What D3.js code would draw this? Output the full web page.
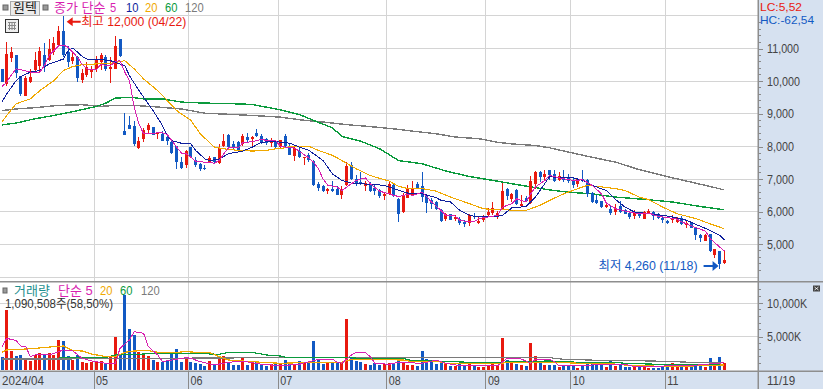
<!DOCTYPE html>
<html>
<head>
<meta charset="utf-8">
<script src="https://d3js.org/d3.v7.min.js"></script>
<style>
    html, body { margin: 0; padding: 0; background: #fff; overflow: hidden; }
    text { font-family: "Liberation Sans", "Noto Sans CJK KR", sans-serif; font-size: 12px; }
    .axis text { fill: #444; }
</style>
</head>
<body>
<div id="chart-area"></div>
<script>
const width = 823;
const height = 389;

// daily candles, 2024/04 .. 2024/11/19
const opens = [10380,9900,10710,10790,10170,9560,9970,10330,10460,10790,10650,10890,11110,11550,10910,10610,10730,10050,10200,10270,10380,10580,10730,10380,10380,11280,
    8460,8660,8640,7960,8220,8510,8610,8370,8390,8290,8150,8030,7520,7420,7980,7600,7470,7350,7540,7690,7500,8030,8340,8080,8150,8080,8290,8230,8410,8320,8220,8110,8160,
    8000,8310,8030,7700,7860,7650,7730,7570,6860,6780,6650,6710,6710,6500,6810,7440,7010,6920,6780,6860,6740,6680,6470,6530,6810,6400,5990,6430,6520,6860,6780,6470,6350,6300,6040,5770,5920,5770,5790,5690,5650,5880,5670,5740,5910,5970,5870,6070,6710,6380,6680,6190,6420,6280,6840,7210,7060,7270,
    7160,6960,7040,7060,6960,6860,7010,6960,6580,6350,6320,6140,6100,5980,6170,6060,5960,5860,5970,5790,5940,6000,5940,5820,5720,5760,5700,5820,5590,5650,5500,5300,5100,5330,4690,4790,4440];
const highs = [10380,11190,11060,10790,10170,10170,10380,10890,11040,11160,11300,11350,11700,12000,11090,10890,10760,10380,10600,10480,10760,10860,10810,10730,11380,11300,
    9030,8920,8770,8280,8560,8710,8610,8440,8470,8390,8240,8030,7670,7900,7980,7670,7490,7420,7700,7690,8080,8390,8390,8180,8180,8390,8420,8320,8540,8390,8260,8260,8180,
    8200,8390,8110,7980,7950,7690,7800,7590,6910,6810,6740,6930,6780,6780,7540,7520,7140,7210,6930,6910,6860,6710,6570,6930,6840,6420,6570,6810,6930,6910,7210,6550,6420,6320,6070,5970,5940,5890,5840,5760,5920,5960,5860,5890,6110,6300,6010,6880,6740,6570,6710,6520,6470,7110,7240,7240,7270,7290,
    7270,7210,7270,7160,7040,7040,7270,6990,6600,6500,6320,6300,6200,6230,6320,6090,5990,6040,5990,6010,6070,6020,5960,5890,5740,5890,5840,5860,5710,5660,5500,5330,5310,5330,4870,4790,4820];
const lows = [9970,9840,10580,10100,9540,9540,9950,10310,10280,10280,10630,10790,11040,10730,10430,10530,9970,9940,10140,10100,10280,10330,10310,9950,10360,10750,
    8350,8540,8030,7910,8130,8390,8340,8220,8180,8050,7760,7300,7300,7350,7670,7370,7250,7270,7500,7500,7470,7980,7960,7880,7830,8030,8150,8030,8290,8080,8060,7980,7960,
    7930,7950,7730,7550,7640,7430,7540,6780,6650,6610,6530,6600,6500,6390,6790,6960,6790,6810,6650,6600,6500,6420,6350,6520,6450,5690,5970,6420,6490,6710,6300,5960,6090,6040,5680,5710,5740,5720,5600,5530,5560,5790,5610,5700,5860,5890,5790,6040,6350,6300,6200,6160,6290,6250,6690,6910,6980,6960,
    6920,6940,6910,6880,6740,6760,6910,6450,6280,6250,6110,6120,5890,5900,5960,5920,5770,5790,5820,5780,5920,5760,5790,5670,5630,5650,5660,5600,5500,5500,5120,5070,5090,4770,4570,4260,4390];
const closes = [9990,10820,10910,10250,9610,10090,10140,10650,10940,10460,10990,11160,11550,10790,10580,10730,10090,10250,10430,10360,10650,10790,10360,10450,11090,10770,
    8350,8540,8080,8180,8520,8660,8340,8440,8180,8180,7810,7520,7350,7850,7690,7420,7320,7300,7640,7520,7960,8180,7980,7960,7880,8310,8210,8290,8310,8100,8100,8180,7980,
    8200,8030,7730,7950,7690,7670,7590,6810,6740,6630,6710,6630,6500,6710,7390,7010,6890,6860,6880,6630,6650,6470,6530,6860,6480,5940,6500,6740,6710,6740,6450,6270,6230,6070,5710,5940,5740,5840,5650,5610,5910,5840,5720,5860,5990,6110,5960,6650,6470,6530,6230,6250,6320,6930,7210,7080,7160,7140,
    6940,7110,6980,6940,6810,6990,6940,6550,6300,6280,6160,6200,5970,6110,5990,5940,5840,6000,5870,5980,6020,5880,5820,5740,5650,5820,5810,5630,5650,5500,5300,5190,5290,4790,4850,4390,4510];

// volume, in K shares
const volumes = [2000,8960,2890,2090,2240,1590,1390,2240,2590,2240,2590,2240,4480,4380,2090,1490,2240,1240,1100,1240,1390,1340,1100,2090,4970,2240,
    11190,6120,5220,2640,2240,2090,1490,1240,1240,1340,2490,3130,1240,1890,1240,1100,900,650,1340,900,2000,2090,1240,750,750,1890,750,1000,1150,750,600,850,850,
    1000,1490,1150,900,1340,1100,1000,4330,1490,900,1100,1100,1100,1100,7610,1740,1340,1240,900,750,1000,750,850,1000,1000,1490,1150,750,750,600,2840,1590,1240,900,1340,900,600,600,850,600,900,650,500,500,750,1000,750,4730,1490,1100,900,750,600,3980,2090,1100,750,750,
    750,500,650,650,650,350,650,1100,850,750,1000,500,1340,650,750,500,500,500,500,400,350,350,350,400,500,1000,500,500,500,500,750,650,500,1740,1000,1940,1090];

// moving averages: day index + value
const ma5Days = [0,1,2,3,4,6,8,9,10,11,12,13,14,15,16,17,18,19,20,21,22,23,24,25,26,27,28,29,30,31,32,34,35,36,37,38,39,40,41,42,43,45,46,47,48,49,50,51,52,54,55,56,58,59,62,65,66,67,68,69,71,72,74,75,77,78,79,80,82,83,84,86,87,89,90,91,93,94,96,97,99,100,101,103,105,106,108,109,111,112,113,115,116,119,121,123,125,127,128,130,131,133,135,137,139,141,143,144,147,149,150,152,153];
const ma5Vals = [9840,9970,10200,10380,10350,10280,10280,10480,10790,10940,11090,11110,11040,10890,10730,10510,10380,10350,10350,10530,10480,10480,10600,10630,10280,10020,9200,8690,8390,8390,8410,8420,8370,8180,7980,7800,7780,7670,7550,7530,7520,7490,7570,7780,7960,7980,7960,8110,8130,8180,8230,8180,8180,8000,7950,7650,7520,7320,7010,6810,6760,6650,6860,6960,7040,6860,6740,6630,6550,6500,6470,6530,6500,6600,6450,6300,6040,5890,5870,5740,5690,5690,5790,5840,5890,6140,6250,6400,6300,6550,6760,6960,7110,7010,6960,6980,6810,6550,6270,6090,6060,5990,5940,5960,5860,5820,5770,5690,5510,5410,5180,4920,4800];

const ma10Days = [0,1,3,4,6,8,9,10,12,13,14,15,17,18,20,23,25,26,27,29,30,32,34,35,36,38,40,41,43,44,46,48,51,53,55,58,59,61,63,65,66,68,70,72,74,76,78,81,83,86,89,92,93,95,97,99,101,104,106,108,111,113,116,118,121,123,125,128,130,132,134,137,140,142,145,148,150,152,153];
const ma10Vals = [9360,9610,10020,10140,10280,10330,10430,10530,10630,10680,10940,11020,10760,10680,10680,10630,10530,10480,10170,9720,9510,9100,8640,8340,8180,8100,8080,7880,7620,7570,7620,7780,7860,7980,8130,8160,8130,8100,7980,7880,7780,7570,7160,6960,6880,6860,6840,6810,6710,6570,6550,6430,6350,6300,6040,5890,5840,5840,5890,6120,6160,6450,7080,7040,7040,6960,6810,6650,6370,6140,5990,5940,5890,5840,5740,5550,5430,5280,5140];

const ma20Days = [0,1,3,6,8,11,13,15,17,20,23,26,28,30,33,35,37,40,42,45,47,50,53,56,58,59,61,65,67,70,72,75,78,82,84,86,89,92,95,99,102,106,111,114,116,119,122,124,126,130,132,135,137,140,143,147,150,153];
const ma20Vals = [8750,8950,9310,9460,9710,10020,10330,10450,10510,10530,10550,10630,10380,10070,9710,9410,9100,8800,8390,7980,7930,7880,7860,7880,7930,7930,8000,8010,7880,7730,7570,7320,7110,6940,6780,6710,6710,6630,6450,6250,6090,6060,6040,6200,6350,6550,6710,6810,6780,6710,6650,6450,6370,6140,5940,5790,5630,5480];

const ma60Days = [0,3,7,11,16,20,22,24,27,30,34,38,43,49,53,59,63,66,70,72,76,80,84,89,94,99,104,108,113,116,120,125,130,136,142,148,153];
const ma60Vals = [8660,8720,8850,8950,9100,9230,9330,9480,9510,9460,9460,9360,9330,9310,9290,9120,8980,8800,8570,8310,8160,7930,7570,7470,7250,7080,6960,6860,6740,6670,6600,6550,6450,6380,6300,6160,6060];

const ma120Days = [0,3,7,12,17,21,24,28,33,38,43,49,53,59,63,68,73,78,83,87,92,96,101,105,108,113,116,120,125,130,135,140,145,149,153];
const ma120Vals = [9100,9150,9190,9260,9280,9230,9260,9260,9210,9150,9020,8980,8950,8900,8820,8750,8670,8610,8540,8470,8390,8290,8240,8130,8080,8030,7960,7830,7670,7520,7290,7110,6940,6810,6670];

const vol5Days = [0,1,3,4,5,6,7,10,11,13,15,17,19,22,24,25,27,28,30,31,33,34,36,39,40,42,45,48,51,55,59,63,65,67,70,71,72,74,75,77,78,79,82,84,89,92,94,96,99,105,107,110,112,113,116,117,118,120,123,125,130,132,134,137,142,146,149,153];
const vol5Vals = [3480,4730,4380,3580,3580,1990,2240,2240,2490,2990,2840,1740,1340,1000,1000,3240,4480,5720,5470,3480,2240,1240,1490,1840,1740,1240,750,1150,1340,850,650,850,1240,1590,1640,1150,1000,2240,2590,2590,1990,1000,850,1150,1000,1490,1000,750,600,650,1740,1640,1000,1640,1590,1240,650,600,650,750,850,850,500,500,650,650,850,1090];

const vol20Days = [0,1,4,7,11,13,15,17,19,22,24,26,28,31,33,36,39,41,44,46,48,51,55,59,66,72,74,77,85,87,92,94,99,106,107,111,116,123,128,132,141,146,153];
const vol20Vals = [2640,2990,3090,3230,3480,3580,2890,2840,2390,1990,1990,2640,2840,2890,2640,2590,2740,2640,2590,1990,1490,1340,1150,1000,1150,1150,1590,1590,1490,1240,1340,1000,1000,1000,1150,1150,1150,1000,1000,750,500,600,750];

const vol60Days = [12,22,24,29,32,41,46,48,53,56,59,60,72,76,85,87,92,99,106,108,116,122,130,132,139,147,153];
const vol60Vals = [1890,1890,2240,2340,2490,2490,2340,2640,2640,2240,2090,1890,1890,1740,1740,1340,1340,1150,1150,1240,1340,1150,1150,1000,850,750,750];

const vol120Days = [0,12,30,59,116,119,127,138,146,153];
const vol120Vals = [1640,1640,1740,1840,1840,1590,1440,1340,1150,1150];

// axes
const priceTicks = [11000, 10000, 9000, 8000, 7000, 6000, 5000];
const priceGrid = [12000, 11000, 10000, 9000, 8000, 7000, 6000, 5000, 4000];
const volumeTicks = [10000, 5000];
const monthLabels = ["05", "06", "07", "08", "09", "10", "11"];
const monthStarts = [19.5, 39.5, 58.5, 81.5, 102.5, 120.5, 140.5];

const RED = "#e8190f";
const BLUE = "#1259c3";
const MAGENTA = "#d81fb0";
const NAVY = "#0e1f9c";
const ORANGE = "#f0a800";
const GREEN = "#0a9a3c";
const GRAY = "#7a7a7a";
const PANEL = "#d6e1f0";
const GRID = "#d4d4d4";

const plotRight = 758;
const sepY = 281;
const stripY = 371;

let svg = d3.select("#chart-area")
    .append("svg")
    .attr("width", width)
    .attr("height", height)
    .style("display", "block");

let xScale = d3.scaleLinear()
    .domain([0, opens.length - 1])
    .range([2, 724.3]);

let yScale = d3.scaleLinear()
    .domain([11000, 5000])
    .range([48.6, 244.4]);

let vScale = d3.scaleLinear()
    .domain([0, 10000])
    .range([370, 303]);

const px = (v) => Math.floor(v) + 0.5;

// the reference font is narrower than anything installed, so squeeze the glyphs a bit
function squeeze(sel, factor) {
    sel.each(function () {
        d3.select(this)
            .attr("textLength", this.getComputedTextLength() * factor)
            .attr("lengthAdjust", "spacingAndGlyphs");
    });
    return sel;
}

function fitWidth(sel, w) {
    return sel.attr("textLength", w).attr("lengthAdjust", "spacingAndGlyphs");
}

// panel backgrounds
svg.append("rect").attr("x", plotRight).attr("y", 0).attr("width", width - plotRight).attr("height", height).attr("fill", PANEL);
svg.append("rect").attr("x", 0).attr("y", stripY).attr("width", width).attr("height", height - stripY).attr("fill", PANEL);

// grid
let grid = svg.append("g")
    .attr("stroke", GRID)
    .attr("stroke-width", 1)
    .attr("shape-rendering", "crispEdges");

grid.selectAll(".h-price")
    .data(priceGrid)
    .enter()
    .append("line")
    .attr("x1", 0)
    .attr("x2", plotRight)
    .attr("y1", (d) => px(yScale(d)))
    .attr("y2", (d) => px(yScale(d)));

grid.selectAll(".h-vol")
    .data(volumeTicks)
    .enter()
    .append("line")
    .attr("x1", 0)
    .attr("x2", plotRight)
    .attr("y1", (d) => px(vScale(d)))
    .attr("y2", (d) => px(vScale(d)));

grid.selectAll(".v-month")
    .data(monthStarts)
    .enter()
    .append("line")
    .attr("x1", (d) => px(xScale(d)))
    .attr("x2", (d) => px(xScale(d)))
    .attr("y1", 0)
    .attr("y2", stripY);

// moving averages under the candles
let line = d3.line()
    .x((d) => xScale(d[0]))
    .y((d) => yScale(d[1]));

let vLine = d3.line()
    .x((d) => xScale(d[0]))
    .y((d) => vScale(d[1]));

const zipped = (days, vals) => days.map((d, i) => [d, vals[i]]);

function drawLine(gen, days, vals, color, w) {
    svg.append("path")
        .datum(zipped(days, vals))
        .attr("fill", "none")
        .attr("stroke", color)
        .attr("stroke-width", w)
        .attr("shape-rendering", "crispEdges")
        .attr("d", gen);
}

drawLine(line, ma120Days, ma120Vals, GRAY, 1.4);
drawLine(line, ma60Days, ma60Vals, GREEN, 1.4);

// candles
let candles = svg.append("g").attr("shape-rendering", "crispEdges");
const idx = d3.range(opens.length);
const upColor = (i) => (closes[i] >= opens[i] ? RED : BLUE);

candles.selectAll(".wick")
    .data(idx)
    .enter()
    .append("line")
    .attr("x1", (i) => px(xScale(i)))
    .attr("x2", (i) => px(xScale(i)))
    .attr("y1", (i) => yScale(highs[i]))
    .attr("y2", (i) => yScale(lows[i]))
    .attr("stroke", upColor);

candles.selectAll(".body")
    .data(idx)
    .enter()
    .append("rect")
    .attr("x", (i) => Math.floor(xScale(i)) - 1)
    .attr("width", 3)
    .attr("y", (i) => yScale(Math.max(opens[i], closes[i])))
    .attr("height", (i) => Math.max(1, Math.abs(yScale(opens[i]) - yScale(closes[i]))))
    .attr("fill", upColor);

drawLine(line, ma20Days, ma20Vals, ORANGE, 1.1);
drawLine(line, ma10Days, ma10Vals, NAVY, 1);
drawLine(line, ma5Days, ma5Vals, MAGENTA, 1);

// volume bars
let bars = svg.append("g").attr("shape-rendering", "crispEdges");

bars.selectAll("rect")
    .data(idx)
    .enter()
    .append("rect")
    .attr("x", (i) => Math.floor(xScale(i)) - 1)
    .attr("width", 3)
    .attr("y", (i) => vScale(volumes[i]))
    .attr("height", (i) => vScale(0) - vScale(volumes[i]))
    .attr("fill", upColor);

drawLine(vLine, vol120Days, vol120Vals, GRAY, 1.2);
drawLine(vLine, vol60Days, vol60Vals, GREEN, 1.2);
drawLine(vLine, vol20Days, vol20Vals, ORANGE, 1.2);
drawLine(vLine, vol5Days, vol5Vals, MAGENTA, 1);

// separators
svg.append("rect").attr("x", 0).attr("y", sepY).attr("width", width).attr("height", 1.5).attr("fill", "#8e8e8e");
svg.append("rect").attr("x", 0).attr("y", stripY - 0.5).attr("width", width).attr("height", 1.5).attr("fill", "#8e8e8e");

// right hand axes
let priceAxis = d3.axisRight(yScale)
    .tickValues(priceTicks)
    .tickSize(5)
    .tickPadding(4)
    .tickFormat(d3.format(","));

let gPrice = svg.append("g")
    .attr("class", "axis")
    .attr("transform", "translate(" + plotRight + ",0)")
    .call(priceAxis);

let volumeAxis = d3.axisRight(vScale)
    .tickValues(volumeTicks)
    .tickSize(5)
    .tickPadding(4)
    .tickFormat((d) => d3.format(",")(d) + "K");

let gVolume = svg.append("g")
    .attr("class", "axis")
    .attr("transform", "translate(" + plotRight + ",0)")
    .call(volumeAxis);

[gPrice, gVolume].forEach((g) => {
    g.select(".domain").remove();
    g.selectAll("line").attr("stroke", "#8a8a8a").attr("shape-rendering", "crispEdges");
    g.selectAll("text").style("font-size", "12.5px").call(squeeze, 0.86);
});

svg.append("rect").attr("x", plotRight - 0.5).attr("y", 0).attr("width", 1.5).attr("height", height).attr("fill", "#8e8e8e");

let minor = svg.append("g")
    .attr("stroke", "#8a8a8a")
    .attr("shape-rendering", "crispEdges");

minor.selectAll(".m-price")
    .data(d3.range(4200, 12200, 200).filter((d) => d % 1000 !== 0))
    .enter()
    .append("line")
    .attr("x1", plotRight)
    .attr("x2", plotRight + 3)
    .attr("y1", (d) => px(yScale(d)))
    .attr("y2", (d) => px(yScale(d)));

minor.selectAll(".m-vol")
    .data(d3.range(0, 13000, 1000).filter((d) => d % 5000 !== 0))
    .enter()
    .append("line")
    .attr("x1", plotRight)
    .attr("x2", plotRight + 3)
    .attr("y1", (d) => px(vScale(d)))
    .attr("y2", (d) => px(vScale(d)));

// time strip
let gMonths = svg.append("g").attr("class", "axis");

gMonths.selectAll("line")
    .data(monthStarts)
    .enter()
    .append("line")
    .attr("x1", (d) => px(xScale(d)))
    .attr("x2", (d) => px(xScale(d)))
    .attr("y1", stripY)
    .attr("y2", height)
    .attr("stroke", "#8a8a8a")
    .attr("shape-rendering", "crispEdges");

gMonths.selectAll("text")
    .data(monthLabels)
    .enter()
    .append("text")
    .attr("x", (d, i) => xScale(monthStarts[i]) + 2)
    .attr("y", 385)
    .style("font-size", "12.5px")
    .text((d) => d)
    .call(squeeze, 0.86);

gMonths.append("text").attr("x", 2).attr("y", 385).style("font-size", "12.5px").text("2024/04").call(squeeze, 0.93);
gMonths.append("text").attr("x", 767).attr("y", 385).style("font-size", "12.5px").text("11/19").call(squeeze, 0.93);

// labels
function label(x, y, str, color, size) {
    return svg.append("text")
        .attr("x", x)
        .attr("y", y)
        .attr("fill", color)
        .style("font-size", (size || 12) + "px")
        .text(str);
}

// top legend
svg.append("rect").attr("x", 3).attr("y", 5).attr("width", 5).attr("height", 5).attr("fill", "#9a9a9a").attr("stroke", "#666");
svg.append("rect").attr("x", 10.5).attr("y", 1.5).attr("width", 29).attr("height", 14).attr("fill", "#ebebeb").attr("stroke", "#aaa");
label(13, 12, "원텍", "#222", 13);
svg.append("rect").attr("x", 43).attr("y", 5).attr("width", 5).attr("height", 5).attr("fill", "#9a9a9a").attr("stroke", "#666");
label(54, 12, "종가 단순", MAGENTA, 13);
label(110, 12, "5", MAGENTA, 13).call(squeeze, 0.86);
label(126, 12, "10", NAVY, 13).call(squeeze, 0.86);
label(145, 12, "20", ORANGE, 13).call(squeeze, 0.86);
label(165, 12, "60", GREEN, 13).call(squeeze, 0.86);
label(185, 12, "120", GRAY, 13).call(squeeze, 0.86);

// table icon
svg.append("rect").attr("x", 5.5).attr("y", 19.5).attr("width", 13).attr("height", 13).attr("fill", "#eee").attr("stroke", "#333");
svg.append("path")
    .attr("d", "M8,22.5h8M8,25.5h8M8,28.5h8M9.5,22v8M12,22v8M14.5,22v8")
    .attr("fill", "none")
    .attr("stroke", "#888");

// high / low notes
let hiX = xScale(13);
let hiY = yScale(12000);
svg.append("path")
    .attr("d", "M" + (hiX + 3.3) + "," + (hiY + 5.7) + "l6,-4.5v3.5h8v2h-8v3.5z")
    .attr("fill", RED);
label(hiX + 18, hiY + 10, "최고 12,000 (04/22)", RED).call(fitWidth, 105);

let loX = xScale(152);
let loY = yScale(4260);
svg.append("path")
    .attr("d", "M" + (loX - 1) + "," + (loY - 2.5) + "l-6,-5v4h-9v2h9v4z")
    .attr("fill", BLUE);
label(loX - 121, loY + 1.5, "최저 4,260 (11/18)", BLUE).call(fitWidth, 99);

// LC / HC
label(760, 11, "LC:5,52", RED, 11.5).call(fitWidth, 42);
label(760, 24, "HC:-62,54", BLUE, 11.5).call(fitWidth, 54);

// volume legend
svg.append("rect").attr("x", 3).attr("y", 288).attr("width", 4).attr("height", 5).attr("fill", "#9a9a9a").attr("stroke", "#666");
label(14, 294.5, "거래량", "#1f8f8f", 13);
label(58, 294.5, "단순 5", MAGENTA, 13);
label(100, 294.5, "20", ORANGE, 13).call(squeeze, 0.86);
label(120, 294.5, "60", GREEN, 13).call(squeeze, 0.86);
label(141, 294.5, "120", GRAY, 13).call(squeeze, 0.86);
label(5, 308, "1,090,508주(58,50%)", "#333").call(fitWidth, 108);

// expand icon
svg.append("rect").attr("x", 813).attr("y", 285.5).attr("width", 7).attr("height", 6).attr("fill", "#444");
svg.append("path").attr("d", "M814.5,287l4,3M818.5,287l-4,3").attr("stroke", "#fff").attr("stroke-width", 0.8);
</script>
</body>
</html>
